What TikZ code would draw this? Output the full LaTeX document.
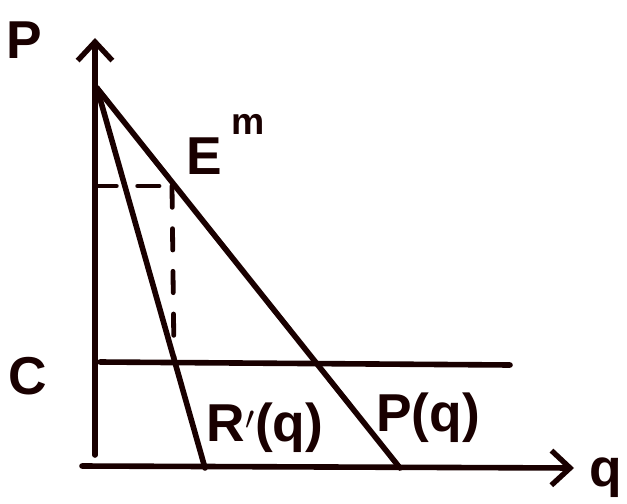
\documentclass[tikz,border=0pt]{standalone}
\usepackage{fontspec}
\setmainfont{Liberation Sans}
\usetikzlibrary{arrows.meta}
\begin{document}
\begin{tikzpicture}[x=0.75pt,y=-0.75pt,
  ink/.style={line width=4.2pt,draw=black!90!red,line cap=round},
  axis/.style={ink,-{Straight Barb[length=14pt,width=26pt,line width=4pt]}},
  guide/.style={ink,line width=3.6pt,dash pattern=on 16pt off 16pt},
  lbl/.style={font=\bfseries\fontsize{40}{46}\selectfont,inner sep=0pt,text=black!90!red}]
\useasboundingbox (0,0) rectangle (627,503);
\coordinate (O) at (95,466);
\coordinate (ytop) at (95,38);
\coordinate (xend) at (574,468);
\coordinate (A) at (97,88);
\coordinate (mr0) at (205,468);
\coordinate (d0) at (400,468);
\coordinate (c0) at (100,362);
\coordinate (c1) at (510,365);
\coordinate (E) at (172,186);
\coordinate (Ey) at (95,186);
\coordinate (Ec) at (174,358);
\draw[axis] (95,455) -- (ytop);
\draw[axis] (82,466) -- (xend);
\draw[ink] (A) -- (mr0);
\draw[ink] (A) -- (d0);
\draw[ink] (c0) -- (c1);
\draw[guide] (Ey) -- (E);
\draw[guide] (E) -- (Ec);
\node[lbl] (pl) at (24,40) {P};
\node[lbl] (ql) at (606,478) {q};
\node[lbl] (cl) at (28,376) {C};
\node[lbl] (el) at (204,156) {E};
\node[lbl,font=\bfseries\fontsize{28}{32}\selectfont] (ml) at (248,124) {m};
\node[lbl] (rl) at (265,428) {R$'$(q)};
\node[lbl] (dl) at (428,418) {P(q)};
\end{tikzpicture}
\end{document}
